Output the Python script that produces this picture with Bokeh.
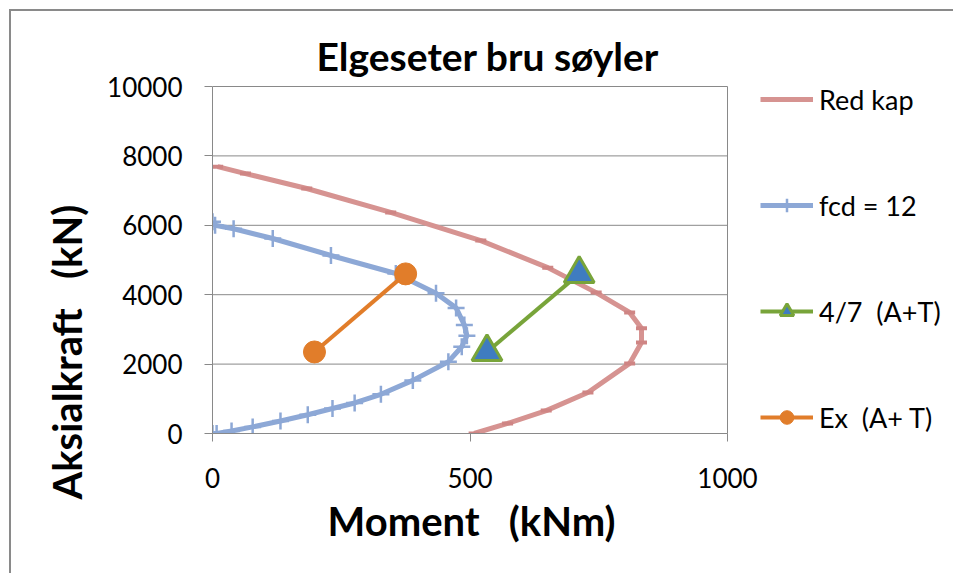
from bokeh.plotting import figure
from bokeh.models import Legend, LegendItem, FixedTicker, Range1d, Title
from bokeh.embed import file_html
from bokeh.resources import INLINE

# ---- data (Moment kNm, Aksialkraft kN) ----
red_moment = [10, 64, 183, 346, 521, 651, 745, 810, 833, 833, 810, 729, 648, 573, 508]
red_axial = [7690, 7490, 7060, 6370, 5560, 4780, 4060, 3490, 3030, 2620, 2020, 1180, 660, 290, 0]

fcd_moment = [0, 5, 41, 117, 230, 356, 434, 473, 489, 494, 484, 458, 389, 327, 276, 233, 185, 132, 78, 37, 8, 0]
fcd_axial = [6100, 6000, 5900, 5620, 5130, 4610, 4040, 3620, 3130, 2820, 2500, 2070, 1530, 1130, 880, 720, 540, 360, 190, 70, 0, 0]

green_moment = [533, 712]
green_axial = [2350, 4600]

orange_moment = [198, 375]
orange_axial = [2350, 4600]

x_ticks = [0, 500, 1000]
y_ticks = [0, 2000, 4000, 6000, 8000, 10000]
x_min, x_max = 0, 1000
y_min, y_max = 0, 10000

series_names = ["Red kap", "fcd = 12", "4/7  (A+T)", "Ex  (A+ T)"]

FONT = "Lato"
GRAY = "#898989"
RED = "#D69391"
RED_D = "#CF8584"
BLUE = "#8DA8D6"
GREEN = "#78A43A"
TRI_FILL = "#3F7CC0"
ORANGE = "#E17D2A"

# layout (px)
W, H = 944, 564
LEFT, TOP, BOTTOM = 201, 67, 142
DATA_W = 515                      # pixel width of the 0..1000 moment span
DATA_H = 347                      # pixel height of the 0..10000 axial span
FRAME_W = W - LEFT                # frame extends right to hold the legend
FRAME_H = H - TOP - BOTTOM        # and slightly above 10000 so the legend is not clipped
view_xmax = x_max * FRAME_W / DATA_W
view_ymax = y_max * FRAME_H / DATA_H

p = figure(width=W, height=H, output_backend="svg", toolbar_location=None,
           x_range=Range1d(x_min, view_xmax), y_range=Range1d(y_min, view_ymax),
           min_border_left=LEFT, min_border_right=0, min_border_top=TOP, min_border_bottom=BOTTOM,
           background_fill_color="white", border_fill_color="white",
           styles={"margin-left": "9px", "margin-top": "9px",
                   "border-left": "2px solid #8a8a8a", "border-top": "2px solid #8a8a8a"})

p.title.text = "Elgeseter bru søyler"
p.title.text_font = FONT
p.title.text_font_style = "bold"
p.title.text_font_size = "39px"
p.title.text_color = "black"
p.title.align = "left"
p.title.offset = 104
p.title.standoff = 0

p.outline_line_color = None
p.xgrid.visible = False
p.ygrid.visible = False

# horizontal grid lines and right plot-area border, limited to the data span
p.segment(x0=[x_min] * len(y_ticks), x1=[x_max] * len(y_ticks), y0=y_ticks, y1=y_ticks,
          line_color=GRAY, line_width=1)
p.segment(x0=[x_max], x1=[x_max], y0=[y_min], y1=[y_max], line_color=GRAY, line_width=1)

p.xaxis.ticker = FixedTicker(ticks=x_ticks)
p.yaxis.ticker = FixedTicker(ticks=y_ticks)
p.xaxis.bounds = (x_min, x_max)
p.yaxis.bounds = (y_min, y_max)
for ax in (p.xaxis[0], p.yaxis[0]):
    ax.axis_line_color = GRAY
    ax.major_tick_line_color = GRAY
    ax.minor_tick_line_color = None
    ax.major_tick_in = 0
    ax.major_tick_out = 8
    ax.major_label_text_font = FONT
    ax.major_label_text_font_size = "26px"
    ax.major_label_text_color = "black"
p.xaxis.major_label_standoff = 26
p.yaxis.major_label_standoff = 22

xtitle = Title(text="Moment \u00a0 (kNm)", align="left", offset=115, standoff=8,
               text_font=FONT, text_font_style="bold", text_font_size="40px", text_color="black")
p.add_layout(xtitle, "below")

ytitle = Title(text="Aksialkraft \u00a0 (kN)", align="left", offset=-66, standoff=28,
               text_font=FONT, text_font_style="bold", text_font_size="40px", text_color="black")
p.add_layout(ytitle, "left")

r_red = p.line(red_moment, red_axial, line_color=RED, line_width=5)
p.scatter(red_moment, red_axial, marker="dash", size=11, line_color=RED_D, line_width=4)

r_blue = p.line(fcd_moment, fcd_axial, line_color=BLUE, line_width=5)
s_blue = p.scatter(fcd_moment, fcd_axial, marker="cross", size=17, line_color=BLUE, line_width=2.5)

r_green = p.line(green_moment, green_axial, line_color=GREEN, line_width=4)
s_green = p.scatter(green_moment, green_axial, marker="triangle", size=30,
                    fill_color=TRI_FILL, line_color=GREEN, line_width=3)

r_orange = p.line(orange_moment, orange_axial, line_color=ORANGE, line_width=4)
s_orange = p.scatter(orange_moment, orange_axial, marker="circle", size=22,
                     fill_color=ORANGE, line_color=ORANGE, line_width=1)

legend = Legend(items=[
    LegendItem(label=series_names[0], renderers=[r_red]),
    LegendItem(label=series_names[1], renderers=[r_blue, s_blue]),
    LegendItem(label=series_names[2], renderers=[r_green, s_green]),
    LegendItem(label=series_names[3], renderers=[r_orange, s_orange]),
], location=(548, -1))
legend.label_text_font = FONT
legend.label_text_font_size = "27px"
legend.label_text_color = "black"
legend.glyph_width = 53
legend.glyph_height = 34
legend.label_height = 34
legend.label_standoff = 6
legend.spacing = 72
legend.padding = 0
legend.margin = 0
legend.border_line_color = None
legend.background_fill_alpha = 0
p.add_layout(legend, "center")

open("out.html", "w").write(file_html(p, INLINE))
